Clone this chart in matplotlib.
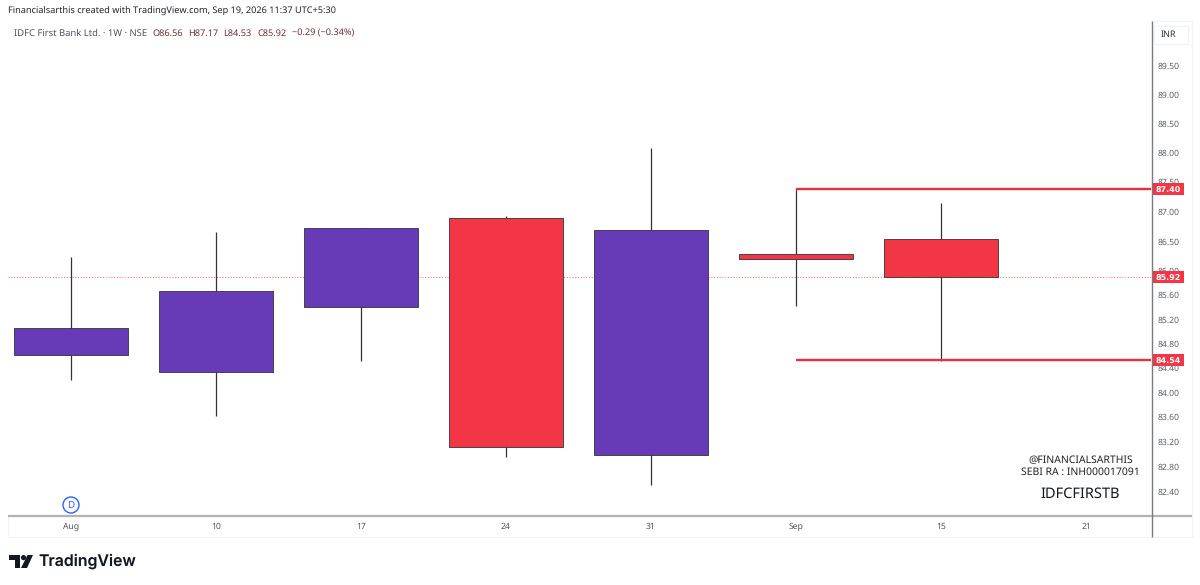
import matplotlib
matplotlib.use('Agg')
import matplotlib.pyplot as plt
from matplotlib.patches import Rectangle, Circle, Polygon

plt.rcParams['text.hinting'] = 'no_hinting'
plt.rcParams['text.hinting_factor'] = 1

# weekly candles
opens = [84.62, 84.34, 85.42, 86.91, 83.00, 86.30, 86.56]
highs = [86.25, 86.67, 86.74, 86.94, 88.10, 87.40, 87.17]
lows = [84.22, 83.63, 84.53, 82.96, 82.51, 85.43, 84.53]
closes = [85.07, 85.68, 86.74, 83.12, 86.71, 86.22, 85.92]

xtick_labels = ['Aug', '10', '17', '24', '31', 'Sep', '15', '21']
price_ticks = [82.40, 82.80, 83.20, 83.60, 84.00, 84.40, 84.80, 85.20, 85.60,
               86.00, 86.50, 87.00, 87.50, 88.00, 88.50, 89.00, 89.50]
last_price = 85.92
level_high = 87.40
level_low = 84.54
level_start = 5

UP = '#673ab7'
DOWN = '#f23645'
W, H = 1200, 585
FONT = 'Noto Sans'

fig = plt.figure(figsize=(W / 100, H / 100), dpi=100, facecolor='white')

# chart pane, pixel box
ax = fig.add_axes([8 / W, 1 - 516 / H, 1143 / W, 495 / H])
ax.set_yscale('log')
ax.set_xlim(-0.434, 7.448)
ax.set_ylim(82.02, 90.30)
ax.set_xticks([])
ax.set_yticks([])
ax.minorticks_off()
for s in ax.spines.values():
    s.set_visible(False)

for i in range(len(opens)):
    col = UP if closes[i] >= opens[i] else DOWN
    ax.plot([i, i], [lows[i], highs[i]], color='#333333', lw=0.9, zorder=2, solid_capstyle='butt')
    low = min(opens[i], closes[i])
    ax.add_patch(Rectangle((i - 0.396, low), 0.792, abs(closes[i] - opens[i]),
                           facecolor=col, edgecolor='#333333', lw=0.6, zorder=3))

xmin, xmax = ax.get_xlim()
ax.plot([xmin, xmax], [last_price, last_price], color='#f4808a', lw=0.8, ls=(0, (1, 1.5)), zorder=1)
for lev in (level_high, level_low):
    ax.plot([level_start, xmax], [lev, lev], color='#e8303f', lw=1.7, zorder=4, solid_capstyle='butt')

for i, lab in enumerate(xtick_labels):
    ax.annotate(lab, (i, 0), xycoords=('data', 'axes fraction'), xytext=(0, -4.6),
                textcoords='offset points', ha='center', va='top', fontsize=6.2,
                color='#50535e', family=FONT, annotation_clip=False)

trans = ax.get_yaxis_transform()
for p in price_ticks:
    ax.text(1 + 17.5 / 1143, p, '%.2f' % p, transform=trans, ha='center', va='center', fontsize=6.2,
            color='#5d606b', family=FONT, clip_on=False)

# everything around the pane, in screen pixels
back = fig.add_axes([0, 0, 1, 1], zorder=-1)
back.set_xlim(0, W)
back.set_ylim(H, 0)
back.axis('off')
back.add_patch(Rectangle((8, 21), 1184, 516, facecolor='white', edgecolor='#f0f3fa', lw=0.8))

top = fig.add_axes([0, 0, 1, 1], zorder=5)
top.set_xlim(0, W)
top.set_ylim(H, 0)
top.axis('off')
top.patch.set_alpha(0)

top.plot([8, 1192], [516, 516], color='#b2b3b5', lw=1.6, solid_capstyle='butt')
top.plot([1151.5, 1151.5], [21, 537], color='#787b80', lw=1.0, solid_capstyle='butt')
top.add_patch(Rectangle((1154, 26), 34, 18, facecolor='white', edgecolor='#f0f3fa', lw=0.8))
top.text(1168.5, 35, 'INR', ha='center', va='center', fontsize=6.5, color='#2a2e39', family=FONT)

# price tags sit on top of the tick labels, as in the screenshot
for v in (level_high, last_price, level_low):
    yp = H - ax.transData.transform((0, v))[1]
    top.add_patch(Rectangle((1152, yp - 6), 32, 12, facecolor=DOWN, edgecolor='none'))
    top.text(1168.5, yp + 1.5, '%.2f' % v, ha='center', va='center', fontsize=5.6, color='white',
             weight='bold', family='DejaVu Sans')

top.text(8, 11.5, 'Financialsarthis created with TradingView.com, Sep 19, 2026 11:37 UTC+5:30',
         ha='left', va='center', fontsize=6.6, color='#1e222d', family=FONT, weight='medium')
top.text(14, 33.5, 'IDFC First Bank Ltd. · 1W · NSE', ha='left', va='center', fontsize=6.8,
         color='#50535e', family=FONT)
for x, s in ((152, 'O86.56'), (188, 'H87.17'), (223.5, 'L84.53'), (257, 'C85.92'), (292, '−0.29 (−0.34%)')):
    top.text(x, 33.5, s, ha='left', va='center', fontsize=6.6, color='#6d2f2f', family=FONT)

top.text(1080.5, 460, '@FINANCIALSARTHIS', ha='center', va='center', fontsize=7.5, color='#222222', family=FONT)
top.text(1080.5, 472, 'SEBI RA : INH000017091', ha='center', va='center', fontsize=7.5, color='#222222', family=FONT)
top.text(1080.5, 494, 'IDFCFIRSTB', ha='center', va='center', fontsize=10.5, color='#131722', family=FONT)

top.add_patch(Circle((71, 505), 8, facecolor='white', edgecolor='#2962ff', lw=1.0))
top.text(71, 505, 'D', ha='center', va='center', fontsize=7, color='#2962ff', family=FONT)

# logo
top.add_patch(Polygon([(9, 555), (20, 555), (20, 568), (15, 568), (15, 560), (9, 560)], facecolor='#131722', lw=0))
top.add_patch(Circle((23.5, 557.6), 2.6, facecolor='#131722', lw=0))
top.add_patch(Polygon([(27.5, 555), (33, 555), (27, 568), (21, 568)], facecolor='#131722', lw=0))
top.text(38.5, 561, 'TradingView', ha='left', va='center', fontsize=11.4, weight='semibold',
         color='#131722', family='Inter')

fig.savefig('out.png', dpi=100)
